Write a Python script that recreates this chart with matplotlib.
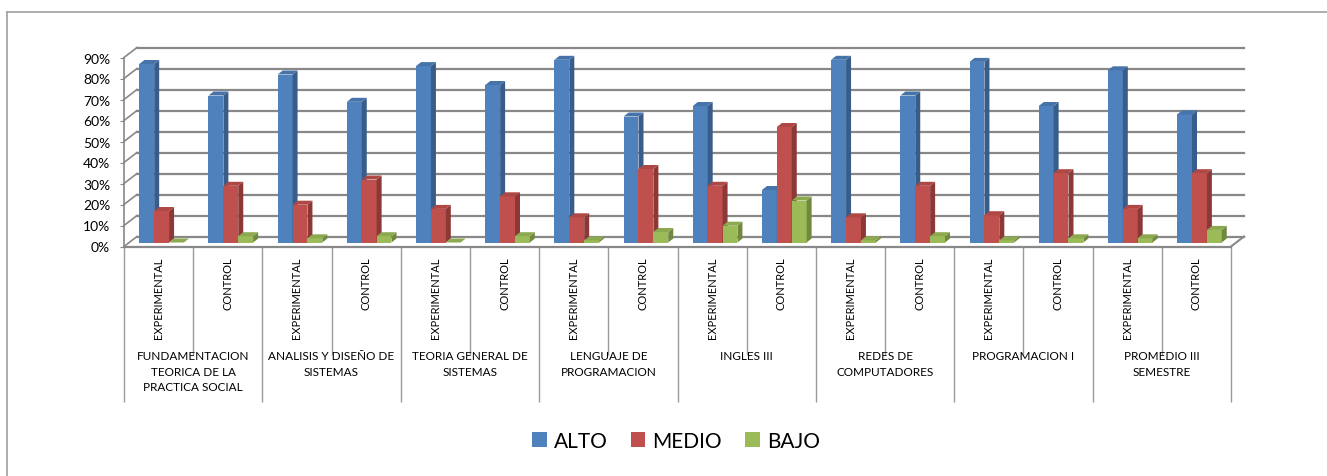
import matplotlib.pyplot as plt
from matplotlib.patches import Polygon, Patch
from matplotlib.lines import Line2D
from matplotlib.transforms import ScaledTranslation
import numpy as np

plt.rcParams['font.family'] = ['Lato', 'DejaVu Sans']

materias = ["FUNDAMENTACION\nTEORICA DE LA\nPRACTICA SOCIAL",
            "ANALISIS Y DISEÑO DE\nSISTEMAS",
            "TEORIA GENERAL DE\nSISTEMAS",
            "LENGUAJE DE\nPROGRAMACION",
            "INGLES III",
            "REDES DE\nCOMPUTADORES",
            "PROGRAMACION I",
            "PROMEDIO III\nSEMESTRE"]
grupos = ["EXPERIMENTAL", "CONTROL"]

# porcentajes por grupo (experimental, control) de cada materia
alto = [85, 70, 80, 67, 84, 75, 87, 60, 65, 25, 87, 70, 86, 65, 82, 61]
medio = [15, 27, 18, 30, 16, 22, 12, 35, 27, 55, 12, 27, 13, 33, 16, 33]
bajo = [0, 3, 2, 3, 0, 3, 1, 5, 8, 20, 1, 3, 1, 2, 2, 6]

series = [("ALTO", alto, "#4F81BD", "#385D8A", "#4674AA"),
          ("MEDIO", medio, "#C0504D", "#8C3836", "#AD4845"),
          ("BAJO", bajo, "#9BBB59", "#71893F", "#8CA950")]

W, H = 1327, 477
fig = plt.figure(figsize=(W / 100, H / 100), dpi=100)
ax = fig.add_axes([124 / W, (H - 247.5) / H, 1107 / W, 189 / H])
n = len(alto)
ax.set_xlim(0, n)
ax.set_ylim(0, 90)

# pixel -> data conversion for the 3D depth
ux = n / 1107
uy = 90 / 189

def shift(px, py):
    return ax.transData + ScaledTranslation(px / 100, py / 100, fig.dpi_scale_trans)

back = shift(13, 10)
grid_c = '#888888'
for v in range(0, 91, 10):
    ax.plot([0, n], [v, v], color=grid_c, lw=1.6, transform=back, zorder=1, clip_on=False)
    # left wall slant
    ax.plot([0, 13 * ux], [v, v + 10 * uy], color=grid_c, lw=1.2, zorder=1, clip_on=False)
# floor right edge
ax.plot([n, n + 13 * ux], [0, 10 * uy], color=grid_c, lw=1.5, zorder=1, clip_on=False)

# bars drawn in a plane halfway through the floor depth
bar_t = shift(5.9, 4.0)
dx, dy = 5 * ux, 4 * uy
w = 0.215
x = np.arange(n)
for k, (name, vals, c_front, c_side, c_top) in enumerate(series):
    left = x + 0.136 + k * w
    bars = ax.bar(left, vals, width=w, align='edge', color=c_front, lw=0, zorder=3 + k)
    for b, x0, v in zip(bars, left, vals):
        b.set_transform(bar_t)
        b.set_clip_on(False)
        side = Polygon([(x0 + w, 0), (x0 + w, v), (x0 + w + dx, v + dy), (x0 + w + dx, dy)],
                       closed=True, facecolor=c_side, lw=0, transform=bar_t,
                       zorder=3 + k, clip_on=False)
        top = Polygon([(x0, v), (x0 + w, v), (x0 + w + dx, v + dy), (x0 + dx, v + dy)],
                      closed=True, facecolor=c_top, lw=0, transform=bar_t,
                      zorder=3 + k, clip_on=False)
        ax.add_patch(side)
        ax.add_patch(top)

for s in ['top', 'right']:
    ax.spines[s].set_visible(False)
ax.spines['left'].set_color(grid_c)
ax.spines['left'].set_linewidth(1.2)
ax.spines['bottom'].set_color(grid_c)
ax.spines['bottom'].set_linewidth(1.6)
ax.spines['bottom'].set_zorder(10)

ax.set_yticks(range(0, 91, 10))
ax.set_yticklabels([f"{v}%" for v in range(0, 91, 10)], fontsize=10)
ax.tick_params(axis='y', length=3, color=grid_c, pad=7)

# category dividers below the floor
ax.set_xticks(np.arange(0, n + 1, 2))
ax.set_xticks(np.arange(1, n, 2), minor=True)
ax.set_xticklabels([])
ax.tick_params(axis='x', which='major', length=155 * 0.72, width=1, color='#9a9a9a')
ax.tick_params(axis='x', which='minor', length=108 * 0.72, width=1, color='#9a9a9a')

xt = ax.get_xaxis_transform()
for i in range(n):
    ax.text(i + 0.5, -10 / 189, grupos[i % 2], rotation=90, ha='center', va='top',
            fontsize=8, transform=xt)
for j, m in enumerate(materias):
    ax.text(2 * j + 1, -104 / 189, m, ha='center', va='top', fontsize=8.5,
            linespacing=1.45, transform=xt)

handles = [Patch(facecolor=c, edgecolor='none') for _, _, c, _, _ in series]
fig.legend(handles, [s[0] for s in series], loc='center', ncol=3,
           bbox_to_anchor=(676 / W, (H - 442) / H), frameon=False, fontsize=15,
           handlelength=0.7, handleheight=0.7, handletextpad=0.35, columnspacing=1.1)

# chart frame
fig.add_artist(Line2D([7 / W, 7 / W], [0, (H - 13) / H], transform=fig.transFigure,
                      color='#a0a0a0', lw=1.2))
fig.add_artist(Line2D([7 / W, 1], [(H - 13) / H, (H - 13) / H], transform=fig.transFigure,
                      color='#a0a0a0', lw=1.2))

fig.savefig('out.png', dpi=100)
